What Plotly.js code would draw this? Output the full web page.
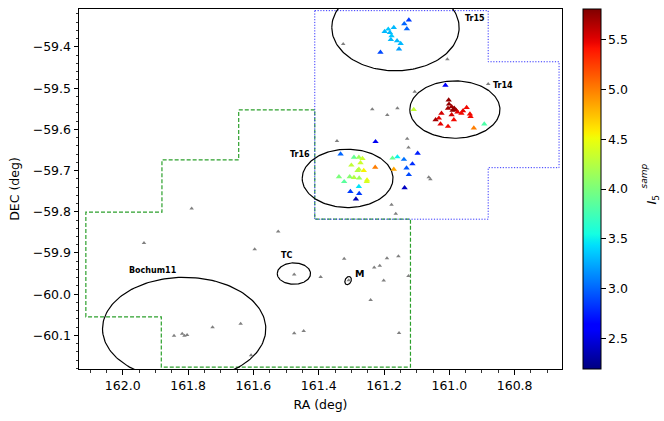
<!DOCTYPE html>
<html>
<head>
<meta charset="utf-8">
<script src="https://cdn.plot.ly/plotly-3.0.1.min.js"></script>
<style>html,body{margin:0;padding:0;background:#fff;}#chart{width:664px;height:421px;}</style>
</head>
<body>
<div id="chart"></div>
<script>
// ---------------- data ----------------
// field stars (gray)
const grayRA  = [161.325,161.006,161.106,161.236,161.159,161.190,160.881,161.129,161.344,161.125,161.063,161.058,161.177,161.164,161.524,161.596,161.475,161.394,161.322,161.308,161.230,161.213,161.191,161.156,161.125,161.201,161.241,161.446,161.475,161.154,161.607,161.639,161.789,161.935,161.843,161.818,161.811,161.803,161.725];
const grayDEC = [-59.393,-59.430,-59.509,-59.551,-59.549,-59.565,-59.490,-59.623,-59.628,-59.644,-59.716,-59.721,-59.783,-59.805,-59.848,-59.891,-59.952,-59.958,-59.914,-59.966,-59.935,-59.931,-59.913,-59.908,-59.956,-59.967,-60.014,-60.089,-60.095,-60.094,-60.148,-60.072,-59.792,-59.876,-60.101,-60.096,-60.101,-60.099,-60.080];

// sampled stars (coloured by I5_samp)
const starRA = [
  // Tr15
  161.124,161.138,161.130,161.170,161.187,161.198,161.182,161.177,161.179,161.160,161.149,161.154,161.211,
  // Tr14
  161.012,161.109,161.002,161.001,160.993,160.985,160.980,160.990,161.004,160.947,160.958,160.963,160.975,160.937,160.935,161.024,161.032,161.042,160.993,160.986,161.027,161.004,160.925,160.893,
  // Tr16 and surroundings
  161.226,161.097,161.333,161.292,161.277,161.266,161.300,161.272,161.277,161.281,161.262,161.227,161.174,161.159,161.139,161.113,161.170,161.131,161.124,161.338,161.305,161.292,161.276,161.252,161.253,161.322,161.277,161.137,161.303,161.276,161.286
];
const starDEC = [
  -59.335,-59.344,-59.356,-59.353,-59.357,-59.363,-59.365,-59.373,-59.382,-59.385,-59.392,-59.405,-59.413,
  -59.493,-59.552,-59.529,-59.539,-59.545,-59.549,-59.553,-59.554,-59.549,-59.547,-59.555,-59.561,-59.558,-59.563,-59.569,-59.561,-59.573,-59.577,-59.565,-59.577,-59.587,-59.593,-59.597,-59.587,
  -59.630,-59.658,-59.660,-59.668,-59.668,-59.671,-59.687,-59.681,-59.697,-59.700,-59.700,-59.692,-59.670,-59.667,-59.673,-59.684,-59.697,-59.694,-59.710,-59.715,-59.715,-59.717,-59.718,-59.723,-59.727,-59.727,-59.739,-59.742,-59.751,-59.756,-59.769
];
const starI5 = [
  2.85,3.0,3.0,3.3,3.35,3.3,3.3,3.35,3.3,3.3,3.3,3.2,2.9,
  2.6,4.3,5.75,5.75,5.7,5.75,5.7,5.75,5.7,5.45,5.5,5.45,5.5,5.45,5.45,5.55,5.5,5.7,5.55,5.45,5.5,5.45,5.0,3.8,
  2.55,2.75,3.0,3.9,4.15,4.35,4.3,4.35,4.3,4.25,4.55,5.0,3.9,3.5,3.05,2.8,4.85,2.95,2.9,4.0,4.05,4.25,4.15,4.5,4.4,3.85,3.45,2.4,2.85,2.85,2.35
];

// survey footprints (vertices RA, DEC)
const greenRA  = [161.412,161.645,161.645,161.880,161.880,162.113,162.113,161.882,161.882,161.119,161.119,161.412,161.412];
const greenDEC = [-59.553,-59.553,-59.674,-59.674,-59.801,-59.801,-60.055,-60.055,-60.177,-60.177,-59.818,-59.818,-59.553];
const blueRA   = [161.412,160.881,160.881,160.664,160.664,160.881,160.881,161.412,161.412];
const blueDEC  = [-59.312,-59.312,-59.436,-59.436,-59.693,-59.693,-59.818,-59.818,-59.312];

// cluster apertures: name, centre RA, centre DEC, axis1 (dRA,dDEC), axis2 (dRA,dDEC)
const clusterNames = ["Tr15","Tr14","Tr16","TC","M","Bochum11"];
const clusterRA    = [161.165,160.983,161.3115,161.476,161.310,161.812];
const clusterDEC   = [-59.353,-59.552,-59.719,-59.950,-59.967,-60.084];
const clusterAx1   = [[0.195,0],[0.138,0],[0.139,0],[0.051,0],[-0.0055,0.0095],[0.250,0]];
const clusterAx2   = [[0,0.105],[0,0.0696],[0,0.0708],[0,0.026],[-0.0084,-0.0031],[0,0.125]];
// label anchors
const labelText = ["Tr15","Tr14","Tr16","TC","M","Bochum11"];
const labelRA   = [160.959,160.871,161.422,161.500,161.295,161.907];
const labelDEC  = [-59.332,-59.494,-59.660,-59.906,-59.950,-59.942];

const xTickRange = [162.134,160.655];
const yTickRange = [-60.1815,-59.308];
const cRange = [2.19,5.81];

// ---------------- build ----------------
function interp(t, pts){
  for(let i=1;i<pts.length;i++){
    if(t<=pts[i][0]){
      const [x0,y0]=pts[i-1],[x1,y1]=pts[i];
      return y0+(y1-y0)*(t-x0)/(x1-x0);
    }
  }
  return pts[pts.length-1][1];
}
function jet(t){
  const r=interp(t,[[0,0],[0.35,0],[0.66,1],[0.89,1],[1,0.5]]);
  const g=interp(t,[[0,0],[0.125,0],[0.375,1],[0.64,1],[0.91,0],[1,0]]);
  const b=interp(t,[[0,0.5],[0.11,1],[0.34,1],[0.65,0],[1,0]]);
  return `rgb(${Math.round(r*255)},${Math.round(g*255)},${Math.round(b*255)})`;
}
const jetScale=[];
for(let i=0;i<=64;i++){const t=i/64;jetScale.push([t,jet(t)]);}

const traces=[];
traces.push({x:greenRA,y:greenDEC,mode:'lines',line:{color:'#2ca02c',width:1.2,dash:'4px,2px'},hoverinfo:'skip',showlegend:false});
traces.push({x:blueRA,y:blueDEC,mode:'lines',line:{color:'#3333ff',width:1,dash:'1.2px,1.6px'},hoverinfo:'skip',showlegend:false});

for(let k=0;k<clusterNames.length;k++){
  const ex=[],ey=[];
  for(let i=0;i<=180;i++){
    const a=2*Math.PI*i/180, c=Math.cos(a), s=Math.sin(a);
    ex.push(clusterRA[k]+clusterAx1[k][0]*c+clusterAx2[k][0]*s);
    ey.push(clusterDEC[k]+clusterAx1[k][1]*c+clusterAx2[k][1]*s);
  }
  traces.push({x:ex,y:ey,mode:'lines',line:{color:'black',width:1.2},hoverinfo:'skip',showlegend:false,cliponaxis:true});
}

traces.push({x:grayRA,y:grayDEC,mode:'markers',marker:{symbol:'triangle-up',size:4,color:'gray'},showlegend:false});
traces.push({x:starRA,y:starDEC,mode:'markers',showlegend:false,
  marker:{symbol:'triangle-up',size:5.6,color:starI5,colorscale:jetScale,cmin:cRange[0],cmax:cRange[1],
    showscale:true,
    colorbar:{x:1.0435,xanchor:'left',xpad:0,ypad:0,y:0.5,yanchor:'middle',len:1,lenmode:'fraction',
      thickness:18,outlinewidth:1,outlinecolor:'black',ticks:'outside',ticklen:4.5,tickwidth:1,tickcolor:'black',
      tick0:0,dtick:0.5,tickformat:'.1f',tickfont:{family:'DejaVu Sans',size:12.5,color:'black'}}}});

const font={family:'DejaVu Sans',size:12.5,color:'black'};
const annotations=[];
for(let k=0;k<labelText.length;k++){
  const isM=labelText[k]==='M';
  let xa='center';
  if(labelText[k]==='Tr15'||labelText[k]==='Tr14'||isM) xa='left';
  if(labelText[k]==='Tr16') xa='right';
  annotations.push({x:labelRA[k],y:labelDEC[k],xref:'x',yref:'y',text:'<b>'+labelText[k]+'</b>',showarrow:false,
    xanchor:xa,yanchor:'middle',font:{family:'DejaVu Sans',size:isM?9.5:8,color:'black'}});
}
annotations.push({xref:'paper',yref:'paper',x:1.188,y:0.47,text:'<i>I</i><sub>5</sub>',textangle:-90,showarrow:false,
  xanchor:'center',yanchor:'middle',font:{family:'DejaVu Sans',size:13,color:'black'}});
annotations.push({xref:'paper',yref:'paper',x:1.170,y:0.535,text:'<i>samp</i>',textangle:-90,showarrow:false,
  xanchor:'center',yanchor:'middle',font:{family:'DejaVu Sans',size:9,color:'black'}});

const axisBase={showgrid:false,zeroline:false,showline:true,linecolor:'black',linewidth:1,mirror:true,
  ticks:'outside',ticklen:4.5,tickwidth:1,tickcolor:'black',tickfont:font,tickformat:'.1f'};
const layout={
  width:664,height:421,margin:{l:79,r:102,t:9,b:52},
  paper_bgcolor:'white',plot_bgcolor:'white',showlegend:false,
  xaxis:Object.assign({},axisBase,{range:xTickRange,tick0:0,dtick:0.2,
    minor:{dtick:0.05,ticks:'outside',ticklen:2.5,tickwidth:0.8,tickcolor:'black',showgrid:false},
    title:{text:'RA (deg)',font:font,standoff:8}}),
  yaxis:Object.assign({},axisBase,{range:yTickRange,tick0:0,dtick:0.1,
    minor:{dtick:0.02,ticks:'outside',ticklen:2.5,tickwidth:0.8,tickcolor:'black',showgrid:false},
    title:{text:'DEC (deg)',font:font,standoff:10}}),
  annotations:annotations
};
Plotly.newPlot('chart',traces,layout,{displayModeBar:false,staticPlot:true});
</script>
</body>
</html>
